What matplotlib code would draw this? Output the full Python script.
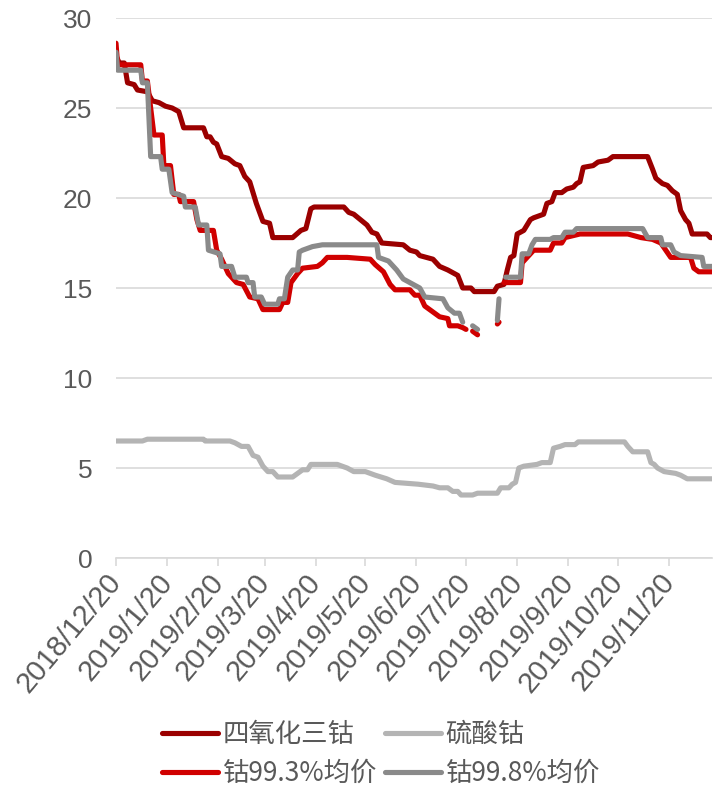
import numpy as np
import pandas as pd
import matplotlib
matplotlib.use("Agg")
import matplotlib.pyplot as plt

plt.rcParams['font.family'] = ['Noto Sans CJK SC', 'DejaVu Sans']

nan = np.nan

# 四氧化三钴
co3o4_dates = ['2018-12-20', '2018-12-22', '2018-12-25', '2018-12-27', '2018-12-31',
               '2019-01-02', '2019-01-08', '2019-01-11', '2019-01-15', '2019-01-19',
               '2019-01-23', '2019-01-27', '2019-01-30', '2019-02-11', '2019-02-13',
               '2019-02-15', '2019-02-17', '2019-02-19', '2019-02-22', '2019-02-26',
               '2019-03-02', '2019-03-05', '2019-03-08', '2019-03-11', '2019-03-15',
               '2019-03-19', '2019-03-23', '2019-03-25', '2019-04-06', '2019-04-11',
               '2019-04-14', '2019-04-17', '2019-04-19', '2019-05-07', '2019-05-10',
               '2019-05-13', '2019-05-17', '2019-05-21', '2019-05-24', '2019-05-27',
               '2019-05-30', '2019-06-12', '2019-06-16', '2019-06-20', '2019-06-22',
               '2019-06-30', '2019-07-04', '2019-07-09', '2019-07-15', '2019-07-18',
               '2019-07-23', '2019-07-25', '2019-08-06', '2019-08-08', '2019-08-12',
               '2019-08-14', '2019-08-16', '2019-08-18', '2019-08-20', '2019-08-24',
               '2019-08-28', '2019-08-30', '2019-09-02', '2019-09-05', '2019-09-07',
               '2019-09-10', '2019-09-12', '2019-09-16', '2019-09-19', '2019-09-23',
               '2019-09-25', '2019-09-27', '2019-09-29', '2019-10-05', '2019-10-08',
               '2019-10-14', '2019-10-17', '2019-11-07', '2019-11-10', '2019-11-12',
               '2019-11-16', '2019-11-19', '2019-11-22', '2019-11-25', '2019-11-27',
               '2019-11-30', '2019-12-02', '2019-12-04', '2019-12-13', '2019-12-15',
               '2019-12-16']
co3o4 = [27.9, 27.5, 27.5, 26.4, 26.3,
         26.0, 25.9, 25.4, 25.3, 25.1,
         25.0, 24.8, 23.9, 23.9, 23.4,
         23.4, 23.1, 23.0, 22.3, 22.2,
         21.9, 21.8, 21.2, 20.9, 19.7,
         18.7, 18.6, 17.8, 17.8, 18.2,
         18.3, 19.4, 19.5, 19.5, 19.2,
         19.1, 18.8, 18.5, 18.1, 18.0,
         17.5, 17.4, 17.1, 17.0, 16.8,
         16.6, 16.2, 16.0, 15.7, 15.0,
         15.0, 14.8, 14.8, 15.1, 15.2,
         16.0, 16.7, 16.8, 18.0, 18.2,
         18.8, 18.9, 19.0, 19.1, 19.7,
         19.8, 20.3, 20.3, 20.5, 20.6,
         20.8, 20.9, 21.7, 21.8, 22.0,
         22.1, 22.3, 22.3, 21.6, 21.1,
         20.8, 20.7, 20.4, 20.2, 19.3,
         18.8, 18.6, 18.0, 18.0, 17.8,
         17.8]

# 硫酸钴
sulfate_dates = ['2018-12-20', '2019-01-05', '2019-01-08', '2019-02-11', '2019-02-12',
                 '2019-02-27', '2019-03-02', '2019-03-06', '2019-03-10', '2019-03-13',
                 '2019-03-16', '2019-03-19', '2019-03-22', '2019-03-25', '2019-03-28',
                 '2019-04-06', '2019-04-09', '2019-04-12', '2019-04-15', '2019-04-17',
                 '2019-05-03', '2019-05-06', '2019-05-09', '2019-05-13', '2019-05-20',
                 '2019-05-26', '2019-06-02', '2019-06-07', '2019-06-21', '2019-06-30',
                 '2019-07-04', '2019-07-09', '2019-07-12', '2019-07-15', '2019-07-17',
                 '2019-07-24', '2019-07-27', '2019-08-08', '2019-08-10', '2019-08-15',
                 '2019-08-17', '2019-08-19', '2019-08-21', '2019-08-24', '2019-09-01',
                 '2019-09-04', '2019-09-09', '2019-09-11', '2019-09-15', '2019-09-18',
                 '2019-09-24', '2019-09-26', '2019-10-24', '2019-10-26', '2019-10-29',
                 '2019-11-07', '2019-11-09', '2019-11-11', '2019-11-13', '2019-11-17',
                 '2019-11-24', '2019-11-27', '2019-12-01', '2019-12-16']
sulfate = [6.5, 6.5, 6.6, 6.6, 6.5,
           6.5, 6.4, 6.2, 6.2, 5.7,
           5.6, 5.1, 4.8, 4.8, 4.5,
           4.5, 4.7, 4.9, 4.9, 5.2,
           5.2, 5.1, 5.0, 4.8, 4.8,
           4.6, 4.4, 4.2, 4.1, 4.0,
           3.9, 3.9, 3.7, 3.7, 3.5,
           3.5, 3.6, 3.6, 3.9, 3.9,
           4.1, 4.2, 5.0, 5.1, 5.2,
           5.3, 5.3, 6.1, 6.2, 6.3,
           6.3, 6.45, 6.45, 6.2, 5.9,
           5.9, 5.3, 5.2, 5.0, 4.8,
           4.7, 4.6, 4.4, 4.4]

# 钴99.3%均价
co993_dates = ['2018-12-20', '2018-12-21', '2019-01-04', '2019-01-05', '2019-01-08',
               '2019-01-12', '2019-01-17', '2019-01-18', '2019-01-22', '2019-01-24',
               '2019-01-27', '2019-01-28', '2019-02-05', '2019-02-07', '2019-02-09',
               '2019-02-17', '2019-02-19', '2019-02-22', '2019-02-26', '2019-03-03',
               '2019-03-07', '2019-03-11', '2019-03-16', '2019-03-19', '2019-03-29',
               '2019-03-31', '2019-04-03', '2019-04-05', '2019-04-09', '2019-04-12',
               '2019-04-21', '2019-04-24', '2019-04-27', '2019-05-09', '2019-05-23',
               '2019-05-26', '2019-05-31', '2019-06-04', '2019-06-07', '2019-06-16',
               '2019-06-19', '2019-06-22', '2019-06-25', '2019-06-28', '2019-07-04',
               '2019-07-09', '2019-07-10', '2019-07-15', '2019-07-18', '2019-07-20',
               '2019-07-22', '2019-07-24', '2019-07-27', '2019-08-01', '2019-08-08',
               '2019-08-09', '2019-08-11', '2019-08-12', '2019-08-22', '2019-08-23',
               '2019-08-26', '2019-08-30', '2019-09-09', '2019-09-11', '2019-09-16',
               '2019-09-18', '2019-09-27', '2019-10-26', '2019-11-03', '2019-11-10',
               '2019-11-15', '2019-11-18', '2019-11-21', '2019-12-03', '2019-12-05',
               '2019-12-08', '2019-12-16']
co993 = [28.6, 27.4, 27.4, 26.5, 26.5,
         23.5, 23.5, 21.8, 21.8, 20.2,
         20.2, 19.8, 19.8, 18.8, 18.2,
         18.2, 17.1, 16.6, 15.8, 15.3,
         15.2, 14.5, 14.4, 13.8, 13.8,
         14.2, 14.2, 15.3, 15.8, 16.1,
         16.2, 16.4, 16.7, 16.7, 16.6,
         16.3, 15.9, 15.2, 14.9, 14.9,
         14.6, 14.6, 14.0, 13.8, 13.4,
         13.3, 12.9, 12.9, 12.8, 12.7,
         nan, 12.6, 12.4, nan, 13.0,
         13.1, nan, 15.3, 15.3, 16.4,
         16.7, 17.1, 17.1, 17.5, 17.5,
         17.8, 18.0, 18.0, 17.8, 17.7,
         17.5, 17.1, 16.7, 16.7, 16.1,
         15.9, 15.9]

# 钴99.8%均价
co998_dates = ['2018-12-20', '2018-12-21', '2019-01-04', '2019-01-05', '2019-01-08',
               '2019-01-10', '2019-01-16', '2019-01-17', '2019-01-21', '2019-01-23',
               '2019-01-30', '2019-01-31', '2019-02-06', '2019-02-08', '2019-02-13',
               '2019-02-14', '2019-02-21', '2019-02-22', '2019-02-28', '2019-03-02',
               '2019-03-09', '2019-03-10', '2019-03-13', '2019-03-14', '2019-03-18',
               '2019-03-20', '2019-03-28', '2019-03-29', '2019-04-01', '2019-04-03',
               '2019-04-06', '2019-04-09', '2019-04-10', '2019-04-12', '2019-04-18',
               '2019-04-24', '2019-05-27', '2019-05-28', '2019-06-03', '2019-06-08',
               '2019-06-12', '2019-06-18', '2019-06-22', '2019-06-25', '2019-07-06',
               '2019-07-09', '2019-07-13', '2019-07-16', '2019-07-18', '2019-07-21',
               '2019-07-24', '2019-07-27', '2019-08-01', '2019-08-08', '2019-08-09',
               '2019-08-11', '2019-08-13', '2019-08-22', '2019-08-23', '2019-08-27',
               '2019-08-29', '2019-08-31', '2019-09-09', '2019-09-11', '2019-09-16',
               '2019-09-18', '2019-09-23', '2019-09-25', '2019-11-04', '2019-11-07',
               '2019-11-15', '2019-11-16', '2019-11-21', '2019-11-23', '2019-11-27',
               '2019-12-10', '2019-12-11', '2019-12-16']
co998 = [28.1, 27.1, 27.1, 26.4, 26.4,
         22.3, 22.3, 21.6, 21.6, 20.3,
         20.1, 19.5, 19.5, 18.5, 18.5,
         17.1, 16.9, 16.2, 16.2, 15.6,
         15.6, 15.3, 15.3, 14.5, 14.5,
         14.1, 14.1, 14.4, 14.4, 15.6,
         16.0, 16.0, 17.0, 17.1, 17.3,
         17.4, 17.4, 16.7, 16.5, 16.0,
         15.5, 15.2, 15.0, 14.5, 14.4,
         13.9, 13.6, 13.6, 13.1, nan,
         12.9, 12.7, nan, 13.2, 14.4,
         nan, 15.6, 15.6, 16.9, 16.9,
         17.4, 17.7, 17.7, 17.8, 17.8,
         18.1, 18.1, 18.3, 18.3, 17.8,
         17.8, 17.4, 17.4, 17.0, 16.8,
         16.7, 16.2, 16.2]

tick_dates = ['2018-12-20', '2019-01-20', '2019-02-20', '2019-03-20', '2019-04-20',
              '2019-05-20', '2019-06-20', '2019-07-20', '2019-08-20', '2019-09-20',
              '2019-10-20', '2019-11-20']
tick_labels = ['2018/12/20', '2019/1/20', '2019/2/20', '2019/3/20', '2019/4/20',
               '2019/5/20', '2019/6/20', '2019/7/20', '2019/8/20', '2019/9/20',
               '2019/10/20', '2019/11/20']

text_color = '#595959'
num_font = ['Liberation Sans', 'DejaVu Sans']

fig = plt.figure(figsize=(7.23, 7.9), dpi=100)
ax = fig.add_axes([116 / 723, 1 - 558 / 790, 596 / 723, 540 / 790])

lw = 3.7
style = dict(lw=lw, solid_capstyle='round', solid_joinstyle='round')
l1, = ax.plot(pd.to_datetime(co3o4_dates), co3o4, color='#9B0000', label='四氧化三钴',
              zorder=3, **style)
l2, = ax.plot(pd.to_datetime(sulfate_dates), sulfate, color='#B4B4B4', label='硫酸钴',
              zorder=3, **style)
l3, = ax.plot(pd.to_datetime(co993_dates), co993, color='#D00000', label='钴99.3%均价',
              zorder=3, **style)
l4, = ax.plot(pd.to_datetime(co998_dates), co998, color='#8A8A8A', label='钴99.8%均价',
              zorder=4, **style)

ax.set_ylim(0, 30)
ax.set_yticks([0, 5, 10, 15, 20, 25, 30])
ax.set_yticklabels(['0', '5', '10', '15', '20', '25', '30'], family=num_font,
                   fontsize=19, color=text_color)
ax.set_xlim(pd.Timestamp('2018-12-20'), pd.Timestamp('2019-12-16'))
ax.set_xticks(pd.to_datetime(tick_dates))
ax.set_xticklabels(tick_labels, rotation=50, ha='right', va='center',
                   rotation_mode='anchor', family=num_font, fontsize=21,
                   color=text_color)

ax.grid(axis='y', color='#D9D9D9', lw=1.2)
ax.set_axisbelow(True)
for s in ['top', 'right', 'left']:
    ax.spines[s].set_visible(False)
ax.spines['bottom'].set_color('#D9D9D9')
ax.spines['bottom'].set_linewidth(1.2)
ax.tick_params(axis='y', length=0, pad=17)
ax.tick_params(axis='x', length=6, color='#D9D9D9', width=1.2, pad=8)

# row-wise order: 四氧化三钴 / 硫酸钴, 钴99.3% / 钴99.8%
fig.legend([l1, l3, l2, l4], [l1.get_label(), l3.get_label(), l2.get_label(), l4.get_label()],
           loc='center left', bbox_to_anchor=(138 / 723, 1 - 754 / 790), ncol=2,
           frameon=False, fontsize=19, labelcolor=text_color, handlelength=2.15,
           handletextpad=0.15, columnspacing=0.3, labelspacing=0.45)

fig.savefig('out.png', dpi=100)
